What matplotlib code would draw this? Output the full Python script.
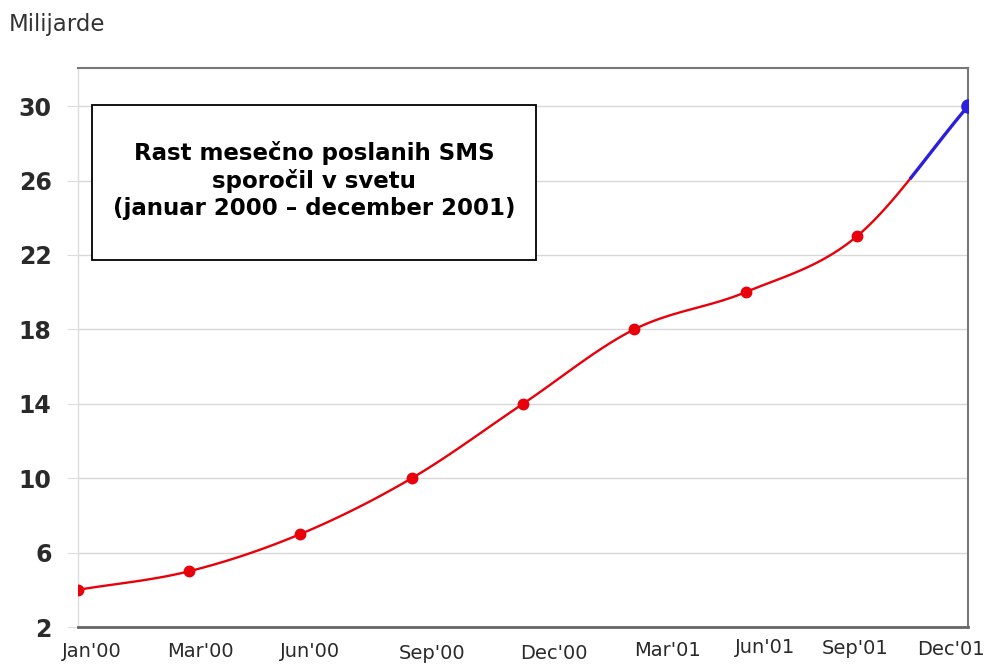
import numpy as np
import matplotlib
matplotlib.use("Agg")
import matplotlib.pyplot as plt
from matplotlib.patches import Rectangle
from matplotlib.transforms import ScaledTranslation

months = ["Jan'00", "Mar'00", "Jun'00", "Sep'00", "Dec'00", "Mar'01", "Jun'01", "Sep'01", "Dec'01"]
values = [4, 5, 7, 10, 14, 18, 20, 23, 30]
yticks = [2, 6, 10, 14, 18, 22, 26, 30]
title_lines = ["Rast mesečno poslanih SMS", "sporočil v svetu", "(januar 2000 \u2013 december 2001)"]
unit_label = "Milijarde"

x = np.arange(len(values), dtype=float)
y = np.array(values, dtype=float)

# Catmull-Rom smoothing through the data points
def catmull(xp, yp, n=40):
    px = np.concatenate([[2*xp[0]-xp[1]], xp, [2*xp[-1]-xp[-2]]])
    py = np.concatenate([[2*yp[0]-yp[1]], yp, [2*yp[-1]-yp[-2]]])
    segs = []
    t = np.linspace(0, 1, n)
    for i in range(1, len(px)-2):
        def cr(p):
            p0, p1, p2, p3 = p[i-1], p[i], p[i+1], p[i+2]
            return 0.5*((2*p1) + (-p0+p2)*t + (2*p0-5*p1+4*p2-p3)*t**2 + (-p0+3*p1-3*p2+p3)*t**3)
        segs.append((cr(px), cr(py)))
    return segs

segs = catmull(x, y)

fig = plt.figure(figsize=(9.88, 6.65), dpi=100)
ax = fig.add_axes([0.0789, 0.0571, 0.9009, 0.8406])

red = "#e8000a"
blue = "#2a1fe0"
split = 0.47
for i, (sx, sy) in enumerate(segs):
    if i < len(segs) - 1:
        ax.plot(sx, sy, color=red, lw=1.7, zorder=3, solid_capstyle="round")
    else:
        t = np.linspace(0, 1, len(sx))
        k = np.searchsorted(t, split)
        ax.plot(sx[:k+1], sy[:k+1], color=red, lw=1.7, zorder=3)
        ax.plot(sx[k:], sy[k:], color=blue, lw=2.4, zorder=3)

ax.plot(x[:-1], y[:-1], "o", color=red, ms=7.5, zorder=4)
ax.plot(x[-1:], y[-1:], "o", color=blue, ms=9.5, zorder=4)

ax.set_xlim(0, len(values) - 1)
ax.set_ylim(2, 32.05)
ax.set_yticks(yticks)
ax.set_yticklabels([str(v) for v in yticks], fontsize=17, fontweight="bold",
                   family="DejaVu Sans", color="#2a2a2a")
ax.set_xticks(x)
ax.set_xticklabels(months, fontsize=14, family="DejaVu Sans", color="#2a2a2a")
ax.tick_params(axis="y", length=8, color="#dddddd", pad=11)
ax.tick_params(axis="x", length=0, pad=10)

# small per-label nudges to mimic the original label placement (pixels)
nudges = [(14, -1), (11, -1), (10, -1), (20, -3), (31, -3), (33, 0), (20, 3), (-2, 2), (-17, 1)]
for lab, (dx, dy) in zip(ax.get_xticklabels(), nudges):
    lab.set_transform(lab.get_transform() + ScaledTranslation(dx / 100, dy / 100, fig.dpi_scale_trans))

ax.grid(axis="y", color="#d8d8d8", lw=1)
ax.set_axisbelow(True)
for s, c, w in [("left", "#dddddd", 1.0), ("bottom", "#666666", 2.0),
                ("right", "#777777", 1.5), ("top", "#777777", 1.5)]:
    ax.spines[s].set_color(c)
    ax.spines[s].set_linewidth(w)

# Title box (axes fraction coordinates)
bx0, bx1 = (92 - 78) / 890, (536 - 78) / 890
by0, by1 = (627 - 260) / 559, (627 - 105) / 559
ax.add_patch(Rectangle((bx0, by0), bx1 - bx0, by1 - by0, transform=ax.transAxes,
                       facecolor="white", edgecolor="black", lw=1.3, zorder=5))
ax.text((bx0 + bx1) / 2, (by0 + by1) / 2 + 0.004, "\n".join(title_lines), transform=ax.transAxes,
        ha="center", va="center", fontsize=16.5, fontweight="bold",
        family="DejaVu Sans", linespacing=1.22, zorder=6)

fig.text(9 / 988, 1 - 25 / 665, unit_label, fontsize=16.5, family="DejaVu Sans",
         color="#333333", va="center", ha="left")

fig.savefig("out.png", dpi=100, facecolor="white")
